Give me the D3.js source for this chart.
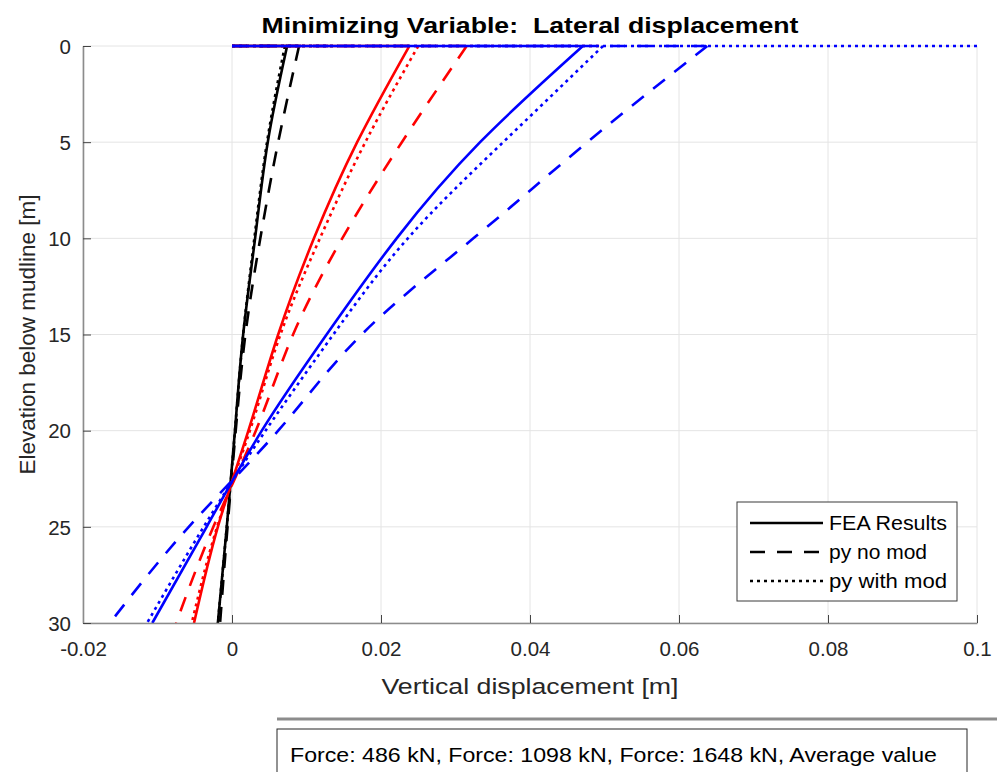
<!DOCTYPE html>
<html><head><meta charset="utf-8">
<script src="https://cdn.jsdelivr.net/npm/d3@7"></script>
<style>body{margin:0;background:#fff;} svg{display:block;font-family:"Liberation Sans",Arial,Helvetica,sans-serif;}</style>
</head><body><svg id="c" width="997" height="772"></svg>
<script>
// ---- data ----
const depths = [0, 5, 10, 15, 20, 25, 30];
const xTicks = [-0.02, 0, 0.02, 0.04, 0.06, 0.08, 0.1];
const xTickLabels = ["-0.02", "0", "0.02", "0.04", "0.06", "0.08", "0.1"];
const yTicks = [0, 5, 10, 15, 20, 25, 30];
const yTickLabels = ["0", "5", "10", "15", "20", "25", "30"];
const forces = ["Force: 486 kN", "Force: 1098 kN", "Force: 1648 kN", "Average value"];
const forceColors = ["#000000", "#ff0000", "#0000ff"];
const methods = ["FEA Results", "py no mod", "py with mod"];
// displacement per depth
const f486_fea    = [0.0074, 0.0048, 0.0031, 0.0015, 0.0004, -0.0007, -0.0019];
const f486_nomod  = [0.0090, 0.0062, 0.0038, 0.0018, 0.0005, -0.0006, -0.0016];
const f486_mod    = [0.0071, 0.0047, 0.0030, 0.0015, 0.0004, -0.0007, -0.0019];
const f1098_fea   = [0.0238, 0.0168, 0.0110, 0.0062, 0.0022, -0.0019, -0.0051];
const f1098_nomod = [0.0315, 0.0228, 0.0148, 0.0082, 0.0032, -0.0025, -0.0075];
const f1098_mod   = [0.0250, 0.0179, 0.0118, 0.0065, 0.0024, -0.0020, -0.0054];
const f1648_fea   = [0.0471, 0.0333, 0.0221, 0.0127, 0.0040, -0.0034, -0.0107];
const f1648_nomod = [0.0638, 0.0477, 0.0324, 0.0174, 0.0062, -0.0058, -0.0164];
const f1648_mod   = [0.0498, 0.0364, 0.0236, 0.0136, 0.0045, -0.0038, -0.0114];
// reach of the mudline (depth 0) segment of each series
const surfaceReach = [
  [0.0074, 0.0090, 0.0142],
  [0.0238, 0.0315, 0.0495],
  [0.0471, 0.0638, 0.1000]
];
const seriesValues = [
  [f486_fea, f486_nomod, f486_mod],
  [f1098_fea, f1098_nomod, f1098_mod],
  [f1648_fea, f1648_nomod, f1648_mod]
];

// ---- layout ----
const svg = d3.select("#c");
const L = 83, R = 977, T = 46, B = 623;
const x = d3.scaleLinear().domain([-0.02, 0.1]).range([L, R]);
const y = d3.scaleLinear().domain([0, 30]).range([T, B]);
const dash = ["none", "15,12", "3,4"];
const txt = "#262626", axCol = "#8c8c8c";

svg.append("defs").append("clipPath").attr("id", "clip")
  .append("rect").attr("x", L).attr("y", T - 3).attr("width", R - L + 1).attr("height", B - T + 6);

// grid
const g = svg.append("g");
g.selectAll(".gx").data(xTicks).enter().append("line")
  .attr("x1", d => x(d)).attr("x2", d => x(d)).attr("y1", T).attr("y2", B)
  .attr("stroke", "#e4e4e4").attr("stroke-width", 1);
g.selectAll(".gy").data(yTicks).enter().append("line")
  .attr("x1", L).attr("x2", R).attr("y1", d => y(d)).attr("y2", d => y(d))
  .attr("stroke", "#e4e4e4").attr("stroke-width", 1);

// series
const plot = svg.append("g").attr("clip-path", "url(#clip)");
const line = d3.line().x(d => x(d[0])).y(d => y(d[1])).curve(d3.curveNatural);
seriesValues.forEach((grp, fi) => {
  grp.forEach((vals, mi) => {
    plot.append("path")
      .attr("d", d3.line()([[x(0), y(0)], [x(surfaceReach[fi][mi]), y(0)]]))
      .attr("fill", "none").attr("stroke", forceColors[fi]).attr("stroke-width", 2.6)
      .attr("stroke-dasharray", dash[mi]);
    plot.append("path")
      .attr("d", line(vals.map((v, i) => [v, depths[i]])))
      .attr("fill", "none").attr("stroke", forceColors[fi]).attr("stroke-width", 2.6)
      .attr("stroke-dasharray", dash[mi]);
  });
});

// axes
const xa = svg.append("g").attr("transform", `translate(0,${B})`)
  .call(d3.axisBottom(x).tickValues(xTicks).tickFormat((d, i) => xTickLabels[i]).tickSizeInner(-8).tickSizeOuter(0).tickPadding(18));
const ya = svg.append("g").attr("transform", `translate(${L},0)`)
  .call(d3.axisLeft(y).tickValues(yTicks).tickFormat((d, i) => yTickLabels[i]).tickSizeInner(-8).tickSizeOuter(0).tickPadding(12));
[xa, ya].forEach(a => {
  a.select(".domain").attr("stroke", axCol).attr("stroke-width", 1.6);
  a.selectAll(".tick line").attr("stroke", "#444").attr("stroke-width", 1);
  a.selectAll(".tick text").attr("fill", txt).attr("font-size", 20.5).attr("font-family", "Liberation Sans, Arial, sans-serif");
});
ya.selectAll(".tick text").attr("dy", "0.35em");

// title & labels
svg.append("text").attr("x", (L + R) / 2).attr("y", 33).attr("text-anchor", "middle")
  .attr("font-weight", "bold").attr("font-size", 22).attr("fill", "#000")
  .attr("textLength", 537).attr("lengthAdjust", "spacingAndGlyphs")
  .style("white-space", "pre").text("Minimizing Variable:  Lateral displacement");
svg.append("text").attr("x", (L + R) / 2).attr("y", 694).attr("text-anchor", "middle")
  .attr("font-size", 22.5).attr("fill", txt)
  .attr("textLength", 297).attr("lengthAdjust", "spacingAndGlyphs")
  .text("Vertical displacement [m]");
svg.append("text").attr("transform", `translate(35,${(T + B) / 2}) rotate(-90)`).attr("text-anchor", "middle")
  .attr("font-size", 22.5).attr("fill", txt)
  .attr("textLength", 280).attr("lengthAdjust", "spacingAndGlyphs")
  .text("Elevation below mudline [m]");

// legend
const legendWidths = [118, 98, 118];
const lg = svg.append("g");
lg.append("rect").attr("x", 737).attr("y", 502).attr("width", 220).attr("height", 99)
  .attr("fill", "#fff").attr("stroke", "#3a3a3a").attr("stroke-width", 1);
methods.forEach((m, i) => {
  const yy = 523 + i * 29;
  lg.append("line").attr("x1", 750).attr("x2", 823).attr("y1", yy).attr("y2", yy)
    .attr("stroke", "#000").attr("stroke-width", 2.5).attr("stroke-dasharray", dash[i]);
  lg.append("text").attr("x", 829).attr("y", yy).attr("dy", "0.35em")
    .attr("font-size", 20).attr("fill", "#000")
    .attr("textLength", legendWidths[i]).attr("lengthAdjust", "spacingAndGlyphs").text(m);
});

// bottom annotation
svg.append("line").attr("x1", 277).attr("x2", 997).attr("y1", 719).attr("y2", 719)
  .attr("stroke", "#8c8c8c").attr("stroke-width", 3);
svg.append("rect").attr("x", 277).attr("y", 729).attr("width", 690).attr("height", 60)
  .attr("fill", "#fff").attr("stroke", "#262626").attr("stroke-width", 1);
svg.append("text").attr("x", 290).attr("y", 755).attr("dy", "0.35em")
  .attr("font-size", 20).attr("fill", "#000")
  .attr("textLength", 647).attr("lengthAdjust", "spacingAndGlyphs")
  .text(forces.join(", "));
</script></body></html>
